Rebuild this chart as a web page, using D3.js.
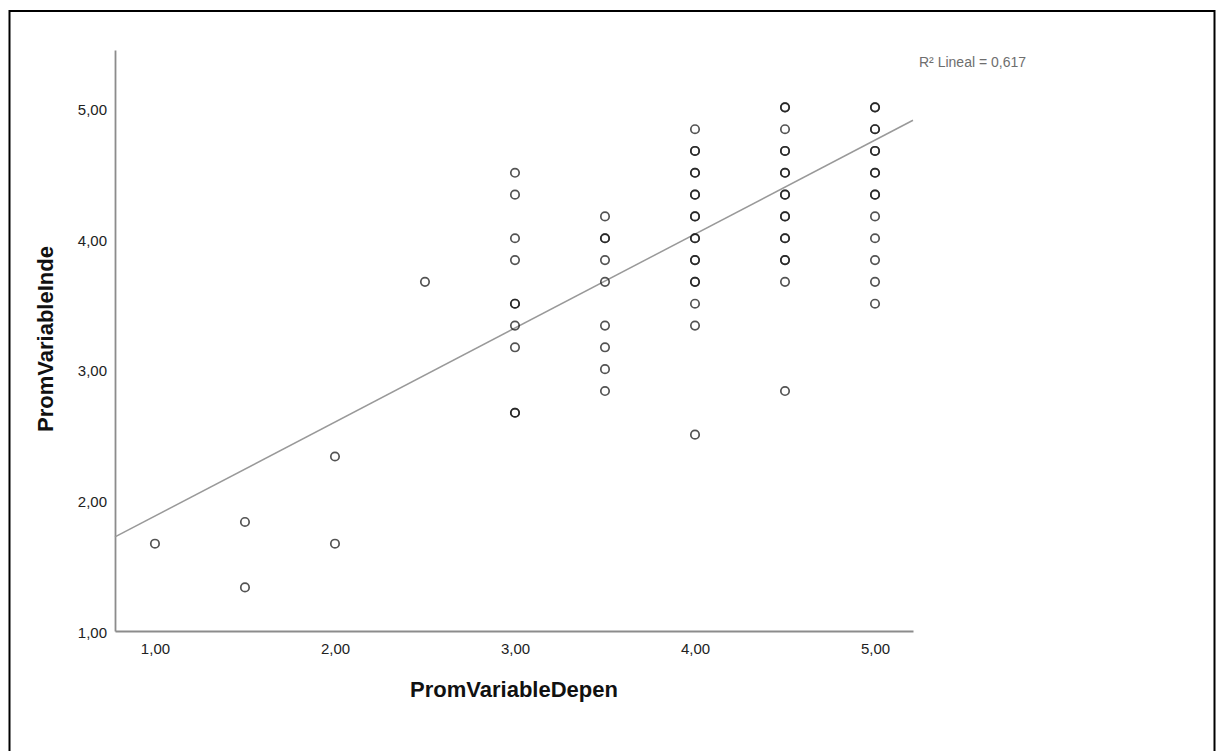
<!DOCTYPE html>
<html>
<head>
<meta charset="utf-8">
<script src="https://cdn.jsdelivr.net/npm/d3@7/dist/d3.min.js"></script>
<style>
  html, body { margin: 0; padding: 0; background: #fff; }
  svg { display: block; }
</style>
</head>
<body>
<svg id="chart" width="1222" height="751"></svg>
<script>
// PromVariableDepen (x) versus PromVariableInde (y); repeated values are listed once per case
const xLevels = [1, 1.5, 2, 2.5, 3, 3.5, 4, 4.5, 5];
const yAtX1_0 = [1.667];
const yAtX1_5 = [1.833, 1.333];
const yAtX2_0 = [2.333, 1.667];
const yAtX2_5 = [3.667];
const yAtX3_0 = [4.5, 4.333, 4.0, 3.833, 3.5, 3.5, 3.333, 3.167, 2.667, 2.667];
const yAtX3_5 = [4.167, 4.0, 4.0, 3.833, 3.667, 3.333, 3.167, 3.0, 2.833];
const yAtX4_0 = [4.833, 4.667, 4.667, 4.5, 4.5, 4.333, 4.333, 4.167, 4.167, 4.0, 4.0,
                 3.833, 3.833, 3.667, 3.667, 3.5, 3.333, 2.5];
const yAtX4_5 = [5.0, 5.0, 4.833, 4.667, 4.667, 4.5, 4.5, 4.333, 4.333, 4.167, 4.167,
                 4.0, 4.0, 3.833, 3.833, 3.667, 2.833];
const yAtX5_0 = [5.0, 5.0, 4.833, 4.833, 4.667, 4.667, 4.5, 4.5, 4.333, 4.333,
                 4.167, 4.0, 3.833, 3.667, 3.5];
const yByLevel = [yAtX1_0, yAtX1_5, yAtX2_0, yAtX2_5, yAtX3_0, yAtX3_5, yAtX4_0, yAtX4_5, yAtX5_0];

// Linear fit line and its R²
const fitIntercept = 1.16;
const fitSlope = 0.718;
const rSquared = 0.617;

const xTicks = [1, 2, 3, 4, 5];
const yTicks = [1, 2, 3, 4, 5];
const xTitle = "PromVariableDepen";
const yTitle = "PromVariableInde";

const points = [];
xLevels.forEach((xv, i) => yByLevel[i].forEach(yv => points.push({ x: xv, y: yv })));

const svg = d3.select("#chart");
const font = "'Liberation Sans', Arial, sans-serif";
const fmt = d => d3.format(".2f")(d).replace(".", ",");

// frame around the whole graphic
svg.append("rect")
  .attr("x", 9.5).attr("y", 11).attr("width", 1205).attr("height", 760)
  .attr("fill", "none").attr("stroke", "#000").attr("stroke-width", 2);

const x = d3.scaleLinear().domain([0.778, 5.211]).range([115, 913]);
const y = d3.scaleLinear().domain([1, 5.438]).range([631, 50]);

// axes
const xAxis = svg.append("g")
  .attr("transform", `translate(0,${y(1)})`)
  .call(d3.axisBottom(x).tickValues(xTicks).tickFormat(fmt).tickSize(0).tickPadding(12));
const yAxis = svg.append("g")
  .attr("transform", `translate(${x.range()[0]},0)`)
  .call(d3.axisLeft(y).tickValues(yTicks).tickFormat(fmt).tickSize(0).tickPadding(8));

[xAxis, yAxis].forEach(g => {
  g.select(".domain").attr("stroke", "#8c8c8c").attr("stroke-width", 1.8);
  g.selectAll("text").attr("fill", "#222").style("font-family", font).style("font-size", "15px");
});
yAxis.selectAll("text").attr("dy", "0.45em");

// fit line across the plotting area
const [x0, x1] = x.domain();
svg.append("line")
  .attr("x1", x(x0)).attr("y1", y(fitIntercept + fitSlope * x0))
  .attr("x2", x(x1)).attr("y2", y(fitIntercept + fitSlope * x1))
  .attr("stroke", "#999").attr("stroke-width", 1.5);

// observations as open circles
svg.append("g").selectAll("circle")
  .data(points)
  .join("circle")
  .attr("cx", d => x(d.x))
  .attr("cy", d => y(d.y))
  .attr("r", 4.2)
  .attr("fill", "none")
  .attr("stroke", "#1a1a1a")
  .attr("stroke-opacity", 0.75)
  .attr("stroke-width", 1.7);

// titles
svg.append("text")
  .attr("x", 514).attr("y", 697)
  .attr("text-anchor", "middle")
  .style("font-family", font).style("font-size", "22px").style("font-weight", "bold")
  .attr("fill", "#111")
  .text(xTitle);

svg.append("text")
  .attr("transform", "translate(53,339) rotate(-90)")
  .attr("text-anchor", "middle")
  .style("font-family", font).style("font-size", "22px").style("font-weight", "bold")
  .attr("fill", "#111")
  .text(yTitle);

// R² annotation
svg.append("text")
  .attr("x", 919).attr("y", 67)
  .style("font-family", font).style("font-size", "14px")
  .attr("fill", "#6e6e6e")
  .text("R\u00B2 Lineal = " + d3.format(".3f")(rSquared).replace(".", ","));
</script>
</body>
</html>
